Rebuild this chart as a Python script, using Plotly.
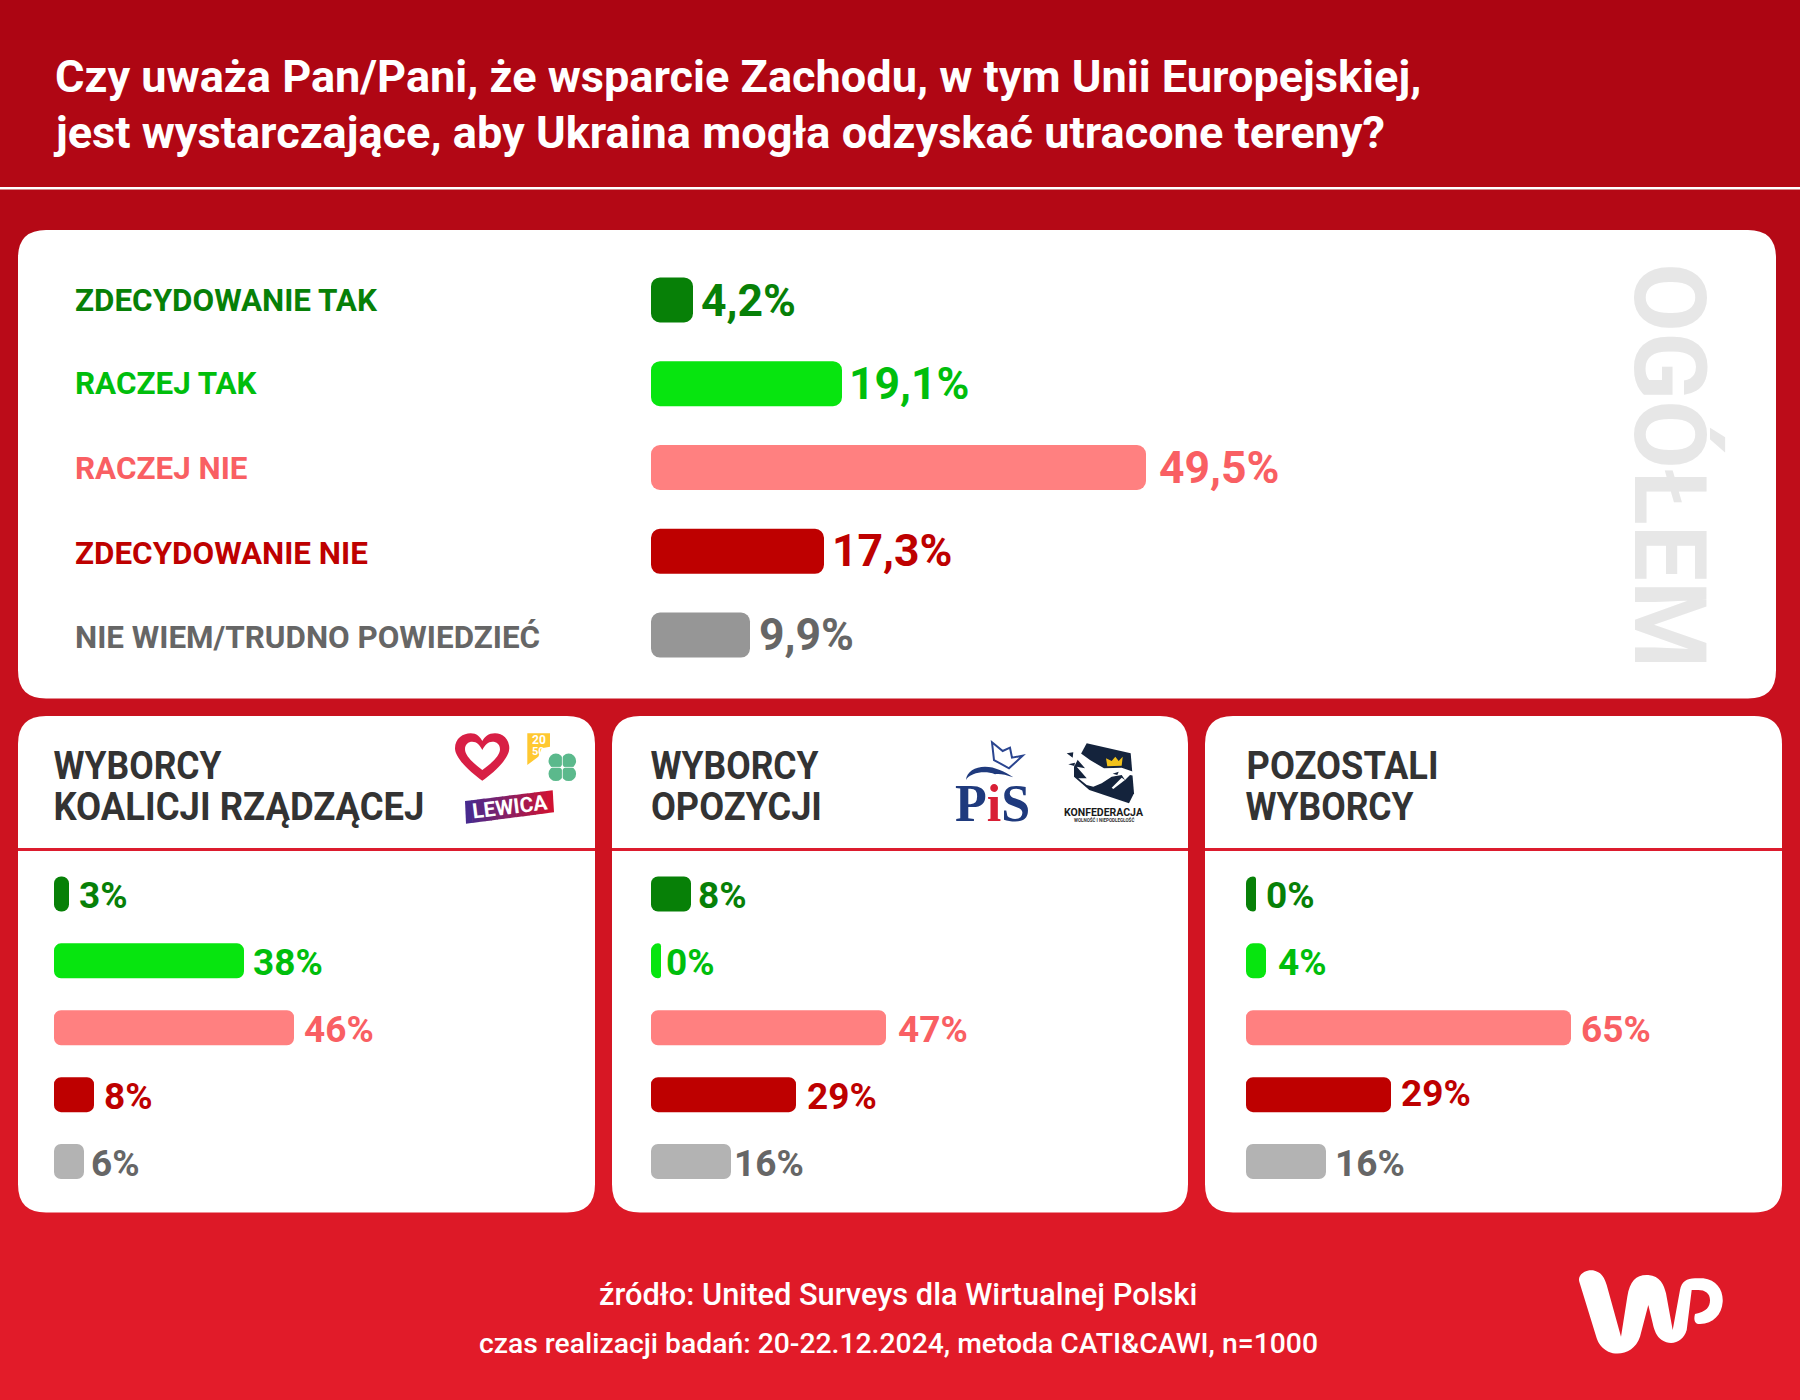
import json
import re
import plotly.graph_objects as go

# text
title_lines = ["Czy uważa Pan/Pani, że wsparcie Zachodu, w tym Unii Europejskiej,",
               "jest wystarczające, aby Ukraina mogła odzyskać utracone tereny?"]
categories = ["ZDECYDOWANIE TAK", "RACZEJ TAK", "RACZEJ NIE", "ZDECYDOWANIE NIE", "NIE WIEM/TRUDNO POWIEDZIEĆ"]
source_lines = ["źródło: United Surveys dla Wirtualnej Polski",
                "czas realizacji badań: 20-22.12.2024, metoda CATI&CAWI, n=1000"]

# values, as bar lengths
# (the original draws 0% as a short stub of about 2 and its 46% bar a bit long, about 48)
ogolem = [4.2, 19.1, 49.5, 17.3, 9.9]
koalicja = [3, 38, 48, 8, 6]
opozycja = [8, 2, 47, 29, 16]
pozostali = [2, 4, 65, 29, 16]

# printed labels
ogolem_labels = ["4,2%", "19,1%", "49,5%", "17,3%", "9,9%"]
koalicja_labels = ["3%", "38%", "46%", "8%", "6%"]
opozycja_labels = ["8%", "0%", "47%", "29%", "16%"]
pozostali_labels = ["0%", "4%", "65%", "29%", "16%"]

# colours
bar_colors = ["#078007", "#07E50F", "#FF8080", "#BE0000", "#969696"]
bar_colors_small = ["#078007", "#07E50F", "#FF8080", "#BE0000", "#B3B3B3"]
text_colors = ["#078007", "#00BE0C", "#F95F63", "#BE0000", "#666666"]

W, H = 1800, 1400
ROBOTO = "Roboto"

# the headings are a condensed face in the original, so Roboto gets squeezed to these widths
heading_widths = {"WYBORCY": 168, "KOALICJI RZĄDZĄCEJ": 371, "OPOZYCJI": 171, "POZOSTALI": 192}

fig = go.Figure()


def text(x, y, s, size, color, anchor="left", angle=0, family=ROBOTO, weight=700, xref="x", yref="y", xshift=0, yshift=0):
    fig.add_annotation(x=x, y=y, xref=xref, yref=yref, text=s, showarrow=False, xanchor=anchor, yanchor="middle",
                       textangle=angle, xshift=xshift, yshift=yshift, borderpad=0,
                       font=dict(family=family, size=size, color=color, weight=weight))


def shape_path(d, fill, line=None, width=0):
    fig.add_shape(type="path", path=d, xref="x", yref="y", layer="below", fillcolor=fill,
                  line=dict(color=line or fill, width=width))


def round_rect(x0, y0, x1, y1, r, fill):
    d = (f"M {x0+r},{y0} L {x1-r},{y0} Q {x1},{y0} {x1},{y0+r} L {x1},{y1-r} Q {x1},{y1} {x1-r},{y1} "
         f"L {x0+r},{y1} Q {x0},{y1} {x0},{y1-r} L {x0},{y0+r} Q {x0},{y0} {x0+r},{y0} Z")
    shape_path(d, fill)


def crop(d, ox, oy):
    # logo outlines were traced on 3x crops of the picture
    return re.sub(r"(-?\d+(?:\.\d+)?),(-?\d+(?:\.\d+)?)",
                  lambda m: f"{ox+float(m[1])/3:.1f},{oy+float(m[2])/3:.1f}", d)


def mix(c0, c1, t):
    return "rgb(" + ",".join(str(round(a + (b - a) * t)) for a, b in zip(c0, c1)) + ")"


# red background gradient
step = 10
for y in range(0, H, step):
    fig.add_shape(type="rect", x0=0, x1=W, y0=y, y1=y + step + 1, xref="x", yref="y", layer="below",
                  fillcolor=mix((172, 5, 18), (228, 28, 42), y / H), line=dict(width=0))

# header rule
fig.add_shape(type="rect", x0=0, x1=W, y0=187, y1=189.5, xref="x", yref="y", layer="below",
              fillcolor="white", line=dict(width=0))

# cards
round_rect(18, 230, 1776, 698.5, 28, "white")
for x0, x1 in [(18, 595), (612, 1188), (1205, 1782)]:
    round_rect(x0, 716, x1, 1212.5, 28, "white")
    fig.add_shape(type="rect", x0=x0, x1=x1, y0=848, y1=851, xref="x", yref="y", layer="below",
                  fillcolor="#DC1C2E", line=dict(width=0))

# title and footer
text(53.5, 76.5, title_lines[0], 45.1, "white")
text(51.5, 132.5, title_lines[1], 45.1, "white")
text(898, 1294, source_lines[0], 30.8, "white", anchor="center", weight=500)
text(898, 1343, source_lines[1], 28.3, "white", anchor="center", weight=500)

# category names and side label
row_y = [300.5, 383.5, 468.5, 553, 637]
for y, c, col in zip(row_y, categories, text_colors):
    text(73.5, y, c, 31.4, col)
text(1670, 466, "OGÓŁEM", 100, "#E7E7E7", anchor="center", angle=90)

# card headings
heading = "#333333"
for x, lines in [(53.5, ["WYBORCY", "KOALICJI RZĄDZĄCEJ"]), (651, ["WYBORCY", "OPOZYCJI"]), (1246, ["POZOSTALI", "WYBORCY"])]:
    text(x + heading_widths[lines[0]] / 2, 765, lines[0], 39.5, heading, anchor="center")
    text(x + heading_widths[lines[1]] / 2, 806, lines[1], 39.5, heading, anchor="center")

# bars, one small chart per panel
# xa, ya, pixel box, values, labels, colours, font size, label gap, label lift, left cap (in %), corner radius
panels = [
    ("x2", "y2", 651, 1651, 258, 677, ogolem, ogolem_labels, bar_colors, 44.5, [7, 6, 12, 7, 8], [-1, 0, 0, 0, 0], 0.9, 9),
    ("x3", "y3", 54, 554, 860.5, 1195, koalicja, koalicja_labels, bar_colors_small, 37, [9, 8, 9, 9, 6], [-2, -2, -2, -2, -2], 1.4, 7),
    ("x4", "y4", 651, 1151, 860.5, 1195, opozycja, opozycja_labels, bar_colors_small, 37, [6, 4, 11, 10, 2], [-2, -2, -2, -2, -2], 1.4, 7),
    ("x5", "y5", 1246, 1746, 860.5, 1195, pozostali, pozostali_labels, bar_colors_small, 37, [9, 11, 9, 9, 8], [-2, -2, -2, 1, -2], 1.4, 7),
]
for xa, ya, px0, px1, py0, py1, vals, labels, colors, fsize, gaps, lifts, cap, radius in panels:
    gap = 0.463 if xa == "x2" else 0.477
    # plotly rounds only the far end of a bar, so a short negative bar supplies the left end
    # and the axis starts at -cap, which keeps each bar's right end at its value
    right = [v - cap for v in vals]
    fig.add_trace(go.Bar(x=right, y=categories, orientation="h", width=1 - gap,
                         marker=dict(color=colors, line=dict(width=0), cornerradius=radius),
                         xaxis=xa, yaxis=ya, hoverinfo="skip", showlegend=False))
    fig.add_trace(go.Bar(x=[-cap] * len(vals), y=categories, orientation="h", width=1 - gap,
                         marker=dict(color=colors, line=dict(width=0), cornerradius=radius),
                         xaxis=xa, yaxis=ya, hoverinfo="skip", showlegend=False))
    n = xa[1:]
    fig.update_layout({
        f"xaxis{n}": dict(domain=[px0 / W, px1 / W], range=[-cap, 100 - cap], visible=False, anchor=ya),
        f"yaxis{n}": dict(domain=[1 - py1 / H, 1 - py0 / H], range=[4.5, -0.5], visible=False, anchor=xa,
                          type="category", categoryorder="array", categoryarray=categories),
    })
    for c, r, lab, tc, g, lift in zip(categories, right, labels, text_colors, gaps, lifts):
        text(r, c, lab, fsize, tc, xref=xa, yref=ya, xshift=g, yshift=lift)

# --- logos ---
# heart
ox, oy = 430, 715
shape_path(crop("M 157,197 C 120,170 75,130 75,100 C 75,70 100,55 122,55 C 140,55 150,65 157,78 C 164,65 175,55 195,55 "
                "C 218,55 238,72 238,100 C 238,130 195,170 157,197 Z", ox, oy), "#D81F45")
shape_path(crop("M 157,165 C 130,145 105,122 105,103 C 105,88 115,80 127,80 C 140,80 150,90 157,105 C 164,90 175,80 187,80 "
                "C 200,80 210,88 210,103 C 210,122 185,145 157,165 Z", ox, oy), "white")
# 2050 tag
shape_path(crop("M 292,55 L 360,55 L 360,95 L 335,100 L 325,125 L 292,150 Z", ox, oy), "#FFC830")
text(539, 740, "20", 12, "white", anchor="center")
text(538, 751, "50", 11, "white", anchor="center")
# clover
for dx, dy in [(-6.4, -6.4), (6.4, -6.4), (-6.4, 6.4), (6.4, 6.4)]:
    fig.add_shape(type="circle", xref="x", yref="y", layer="below", fillcolor="#5BB98C", line=dict(width=0),
                  x0=562.3 + dx - 7.4, x1=562.3 + dx + 7.4, y0=767.3 + dy - 7.4, y1=767.3 + dy + 7.4)
fig.add_shape(type="rect", xref="x", yref="y", layer="below", fillcolor="white", line=dict(width=0),
              x0=561.9, x1=562.7, y0=753, y1=782)
fig.add_shape(type="rect", xref="x", yref="y", layer="below", fillcolor="white", line=dict(width=0),
              x0=548, x1=577, y0=766.9, y1=767.7)
# lewica band
n_strips = 14
tl, tr, br, bl = (465, 801), (552.7, 790.3), (554, 812.3), (466, 823.7)
for i in range(n_strips):
    a, b = i / n_strips, (i + 1.1) / n_strips
    top0 = [tl[k] + (tr[k] - tl[k]) * a for k in (0, 1)]
    top1 = [tl[k] + (tr[k] - tl[k]) * min(b, 1) for k in (0, 1)]
    bot1 = [bl[k] + (br[k] - bl[k]) * min(b, 1) for k in (0, 1)]
    bot0 = [bl[k] + (br[k] - bl[k]) * a for k in (0, 1)]
    shape_path(f"M {top0[0]:.1f},{top0[1]:.1f} L {top1[0]:.1f},{top1[1]:.1f} L {bot1[0]:.1f},{bot1[1]:.1f} L {bot0[0]:.1f},{bot0[1]:.1f} Z",
               mix((72, 42, 142), (218, 16, 43), a))
text(509.5, 807, "LEWICA", 21, "white", anchor="center", angle=-7)

# PiS
ox, oy = 930, 725
navy_pis = "#1F3A7D"
shape_path(crop("M 108,165 C 110,140 135,125 165,125 C 195,125 225,140 250,157 C 225,148 205,145 195,148 "
                "C 175,140 150,140 130,148 C 118,152 112,158 108,165 Z", ox, oy), navy_pis)
fig.add_shape(type="path", xref="x", yref="y", layer="below", line=dict(color="#2A4590", width=2),
              path=crop("M 186,52 L 218,78 L 240,68 L 246,98 L 278,92 L 237,130 L 192,105 Z", ox, oy))
text(992, 803, f'P<span style="color:#D81F35">i</span>S', 52, navy_pis, anchor="center", family="Liberation Serif")

# Konfederacja
navy_konf = "#14233C"
shape_path(crop("M 470,55 L 602,85 L 612,205 L 597,235 L 478,195 L 432,155 L 432,125 Z", ox, oy), navy_konf)
shape_path(crop("M 425,65 L 480,105 L 522,130 L 575,128 L 610,140 L 635,157 L 600,150 L 585,165 L 575,150 L 545,155 "
                "L 515,175 L 490,185 L 470,180 L 445,160 L 470,160 L 440,125 L 465,130 L 435,95 Z", ox, oy), "white")
shape_path(crop("M 585,165 L 550,192 L 545,188 L 575,158 Z", ox, oy), "white")
shape_path(crop("M 528,100 L 545,108 L 556,95 L 566,108 L 578,95 L 575,122 L 532,124 Z", ox, oy), "#F2C21B")
shape_path(crop("M 548,146 L 566,140 L 562,150 Z", ox, oy), navy_konf)
shape_path(crop("M 410,85 L 430,82 L 428,98 Z M 415,118 L 435,113 L 433,123 Z", ox, oy), navy_konf)
text(1104, 812, "KONFEDERACJA", 10.5, "#1A1A1A", anchor="center")
text(1104, 819.5, "WOLNOŚĆ I NIEPODLEGŁOŚĆ", 4.5, "#333333", anchor="center")

# WP
shape_path(crop("M 118,125 C 110,100 150,80 175,97 C 190,105 195,120 200,135 L 243,290 L 262,170 C 270,120 290,103 325,105 "
                "C 360,107 372,135 378,160 L 398,270 L 420,150 C 425,125 440,115 465,115 L 490,115 C 530,120 550,150 548,185 "
                "C 545,225 520,250 480,252 C 465,253 460,240 465,222 C 500,215 510,200 510,180 C 510,160 495,150 475,150 "
                "L 455,150 L 440,270 C 430,305 395,320 365,300 C 350,290 342,270 338,250 L 325,195 L 300,290 "
                "C 285,335 240,350 205,335 C 185,325 175,310 170,295 Z", 1540, 1240), "white")

fig.update_layout(
    width=W, height=H, margin=dict(l=0, r=0, t=0, b=0),
    paper_bgcolor="#C81220", plot_bgcolor="rgba(0,0,0,0)",
    barmode="overlay", showlegend=False,
    xaxis=dict(domain=[0, 1], range=[0, W], visible=False, fixedrange=True),
    yaxis=dict(domain=[0, 1], range=[H, 0], visible=False, fixedrange=True),
)
# the overlay axes need one trace so the xy subplot exists
fig.add_trace(go.Scatter(x=[0], y=[0], mode="markers", marker=dict(opacity=0), xaxis="x", yaxis="y",
                         hoverinfo="skip", showlegend=False))

squeeze = """
document.body.style.margin = '0';
document.body.style.overflow = 'hidden';
var widths = %s;
document.querySelectorAll('.annotation-text').forEach(function (t) {
  var w = widths[t.textContent];
  if (w) { t.setAttribute('textLength', w); t.setAttribute('lengthAdjust', 'spacingAndGlyphs'); }
});
""" % json.dumps(heading_widths, ensure_ascii=False)

fig.write_html("out.html", config=dict(displayModeBar=False), post_script=squeeze)
